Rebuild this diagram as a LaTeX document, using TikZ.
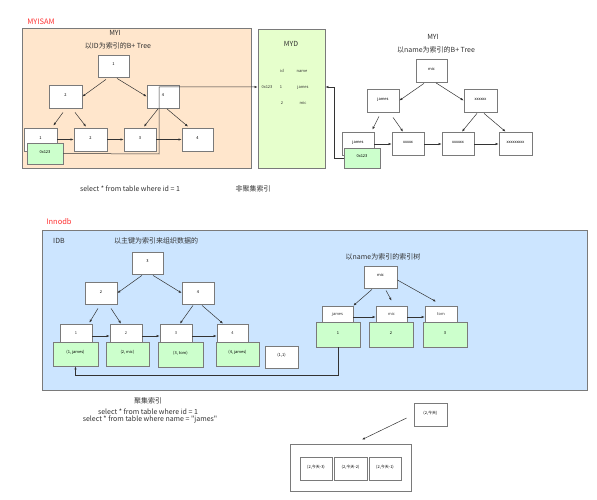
\documentclass[tikz,border=0pt]{standalone}
\usepackage{fontspec}
\setmainfont{Noto Sans CJK SC}[Ligatures=TeXOff]
\usetikzlibrary{fit,arrows.meta,calc}
\definecolor{orangefill}{HTML}{FFE6CC}
\definecolor{greenfill}{HTML}{CCFFCC}
\definecolor{mydfill}{HTML}{E6FFCC}
\definecolor{bluefill}{HTML}{CCE5FF}
\definecolor{redtxt}{HTML}{FF3333}
\definecolor{bordergray}{HTML}{7A7A7A}
\newcommand\bx[7][]{\node[bx,#1,fit={(#3,#4)(#5,#6)}] (#2) {#7};}
\begin{document}
\begin{tikzpicture}[x=1pt,y=-1pt,
  bx/.style={draw=bordergray, line width=0.8pt, fill=white, inner sep=0pt, font=\fontsize{4}{5}\selectfont},
  grn/.style={fill=greenfill},
  panel/.style={draw=bordergray, line width=0.9pt},
  arr/.style={-{Latex[length=3pt,width=2.4pt]}, draw=black!80, line width=0.5pt},
  title/.style={font=\fontsize{7}{8}\selectfont, text=black!80, inner sep=0pt},
  small/.style={font=\fontsize{4}{5}\selectfont, text=black!80, inner sep=0pt},
  redlab/.style={font=\fontsize{7.5}{8.5}\selectfont, text=redtxt, inner sep=0pt}
]
\useasboundingbox (0,0) rectangle (597,500);
\fill[white] (0,0) rectangle (597,500);

% ---------------- MYISAM ----------------
\node[redlab] (myisam) at (41,22) {MYISAM};
\node[panel, fill=orangefill, inner sep=0pt, fit={(22,28)(251,168)}] (myi) {};
\node[title] (myititle) at (115,33) {MYI};
\node[title] (myisub) at (118,46) {以ID为索引的B+ Tree};

\bx{r1}{98}{55}{129}{77}{1}
\bx{n2}{49}{85}{82}{108}{2}
\bx{n4}{147}{85}{179}{108}{4}
\bx{l1}{24}{128}{57}{151}{1}
\bx{l2}{74}{128}{107}{151}{2}
\bx{l3}{124}{128}{156}{151}{3}
\bx{l4}{182}{128}{213}{151}{4}
\bx[grn]{g1}{27}{143}{63}{164}{0x123}

\draw[arr] ([shift={(-7.5,2)}]r1.south) -- (n2.east);
\draw[arr] ([shift={(3.5,1)}]r1.south) -- (n4.west);
\draw[arr] ([shift={(-2.5,4)}]n2.south) -- ([shift={(-4,-2)}]l1.north east);
\draw[arr] ([shift={(9.5,4)}]n2.south) -- ([shift={(-4.5,-1)}]l2.north);
\draw[arr] ([shift={(-5,0.5)}]n4.south) -- ([shift={(4,-1)}]l3.north);
\draw[arr] ([shift={(4,0.5)}]n4.south) -- ([shift={(-9.5,-1)}]l4.north);
\draw[arr] (l1.east) -- (l2.west);
\draw[arr] (l2.east) -- (l3.west);
\draw[arr] (l3.east) -- (l4.west);

% MYD
\node[panel, fill=mydfill, inner sep=0pt, fit={(258,29)(325,168)}] (myd) {};
\node[title] (mydtitle) at (291,44) {MYD};
\node[small] (hid) at (282,71) {id};
\node[small] (hname) at (302,71) {name};
\node[small] (t0x) at (267,87) {0x123};
\node[small] (tid1) at (281,87) {1};
\node[small] (tj) at (303,87) {james};
\node[small] (tid2) at (282,103) {2};
\node[small] (tm) at (303,103) {mic};

\draw[arr] (g1.east) -- (159,154) |- (myd.west |- t0x);

% right MYI
\node[title] (myi2title) at (433,37) {MYI};
\node[title] (myi2sub) at (436,50) {以name为索引的B+ Tree};
\bx{rm}{416}{59}{447}{82}{mic}
\bx{nj}{367}{89}{399}{112}{james}
\bx{nx}{464}{89}{497}{112}{xxxxxx}
\bx{lj}{342}{132}{374}{155}{james}
\bx{lxa}{392}{132}{424}{155}{xxxxx}
\bx{lxb}{442}{132}{474}{155}{xxxxxx}
\bx{lxc}{499}{132}{532}{155}{xxxxxxxxx}
\bx[grn]{g2}{344}{148}{380}{168}{0x123}

\draw[arr] ([shift={(-7.5,1)}]rm.south) -- (nj.east);
\draw[arr] ([shift={(4.5,0.5)}]rm.south) -- (nx.west);
\draw[arr] ([shift={(-4,4)}]nj.south) -- ([shift={(-2,-2)}]lj.north east);
\draw[arr] ([shift={(10,5)}]nj.south) -- ([shift={(-5,0)}]lxa.north);
\draw[arr] ([shift={(-3.5,1)}]nx.south) -- ([shift={(4,0)}]lxb.north);
\draw[arr] ([shift={(3.5,1)}]nx.south) -- ([shift={(-10,0)}]lxc.north);
\draw[arr] ([shift={(0,0.5)}]lj.east) -- ([shift={(0,0.5)}]lxa.west);
\draw[arr] ([shift={(0,0.5)}]lxa.east) -- ([shift={(0,0.5)}]lxb.west);
\draw[arr] ([shift={(0,0.5)}]lxb.east) -- ([shift={(0,0.5)}]lxc.west);

\draw[arr] (g2.west) -- (334,158) |- (myd.east |- t0x);

\node[title] (q1) at (130,189) {select * from table where id = 1};
\node[title] (nonclu) at (253,189) {非聚集索引};

% ---------------- Innodb ----------------
\node[redlab] (innodb) at (59,222) {Innodb};
\node[panel, fill=bluefill, inner sep=0pt, fit={(42,230)(587,390)}] (idb) {};
\node[title, anchor=west] (idbtitle) at (53,241) {IDB};
\node[title] (idbsub) at (156,241) {以主键为索引来组织数据的};

\bx{ir}{132}{252}{163}{274}{3}
\bx{itwo}{85}{282}{117}{304}{2}
\bx{ifour}{182}{282}{214}{304}{4}
\bx{ka}{60}{324}{92}{348}{}
\bx{kb}{110}{324}{142}{348}{}
\bx{kc}{160}{324}{192}{348}{}
\bx{kd}{217}{324}{248}{348}{}
\node[small] (kalab) at (76,333) {1};
\node[small] (kblab) at (126,333) {2};
\node[small] (kclab) at (176,333) {3};
\node[small] (kdlab) at (232.5,333) {4};
\bx[grn]{da}{53}{342}{98}{366}{(1, james)}
\bx[grn]{db}{106}{342}{149}{366}{(2, mic)}
\bx[grn]{dc}{158}{342}{203}{367}{(3, tom)}
\bx[grn]{dd}{216}{342}{259}{366}{(4, james)}
\bx{oneone}{265}{346}{298}{368}{(1,1)}

\draw[arr] ([shift={(-5.5,1)}]ir.south) -- (itwo.east);
\draw[arr] ([shift={(5.5,1)}]ir.south) -- (ifour.west);
\draw[arr] ([shift={(-3,4)}]itwo.south) -- ([shift={(-3,-1)}]ka.north east);
\draw[arr] ([shift={(10,4)}]itwo.south) -- ([shift={(-5,0)}]kb.north);
\draw[arr] ([shift={(-5,1)}]ifour.south) -- ([shift={(4,0)}]kc.north);
\draw[arr] ([shift={(4,1)}]ifour.south) -- ([shift={(-9.5,0)}]kd.north);
\draw[arr] (ka.east) -- (kb.west);
\draw[arr] (kb.east) -- (kc.west);
\draw[arr] (kc.east) -- (kd.west);

% name index tree
\node[title] (nametitle) at (383,257) {以name为索引的索引树};
\bx{nr}{364}{266}{397}{288}{mic}
\bx{wa}{322}{306}{353}{328}{}
\bx{wb}{376}{306}{407}{328}{}
\bx{wc}{425}{306}{457}{328}{}
\node[small] (walab) at (337.5,314) {james};
\node[small] (wblab) at (391.5,314) {mic};
\node[small] (wclab) at (441,314) {tom};
\bx[grn]{ea}{316}{322}{360}{347}{1}
\bx[grn]{eb}{369}{322}{413}{347}{2}
\bx[grn]{ec}{423}{322}{467}{347}{3}

\draw[arr] ([shift={(-8.5,1)}]nr.south) -- (wa.north east);
\draw[arr] ([shift={(5.5,2)}]nr.south) -- ([shift={(0,-5)}]wb.north);
\draw[arr] ([shift={(0,3)}]nr.east) -- ([shift={(-5,-4)}]wc.north);
\draw[arr] (wa.east) -- (wb.west);
\draw[arr] (wb.east) -- (wc.west);

\draw[arr] (ea.south) -- (338,375) -| (da.south);

% ---------------- bottom ----------------
\node[title] (clu) at (148,401) {聚集索引};
\node[title] (q2) at (148,412) {select * from table where id = 1};
\node[title] (q3) at (150,419.5) {select * from table where name = "james"};

\bx{today}{414}{403}{447}{426}{(2,今天)}
\node[draw=bordergray, line width=0.8pt, inner sep=0pt, fit={(290,444)(411,491)}] (outer) {};
\bx{ta}{300}{457}{332}{480}{(2,今天-3)}
\bx{tb}{334}{457}{367}{480}{(2,今天-2)}
\bx{tc}{369}{457}{401}{480}{(2,今天-1)}
\draw[arr] ([shift={(-7,3.5)}]today.west) -- ([shift={(11.5,-4)}]outer.north);
\end{tikzpicture}
\end{document}
